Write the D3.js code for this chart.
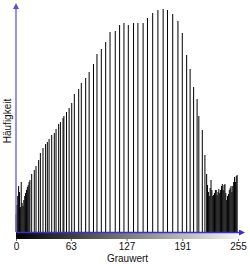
<!DOCTYPE html>
<html>
<head>
<meta charset="utf-8">
<script src="https://cdn.jsdelivr.net/npm/d3@7"></script>
<style>
  body { margin: 0; background: #fff; }
  text { font-family: "Liberation Sans", Arial, sans-serif; }
</style>
</head>
<body>
<div id="container"></div>
<script>
let w = 250;
let h = 264;

// gray values 0..16 (dense part at the dark end)
let darkLevels = [0, 1, 2, 3, 4, 5, 6, 7, 8, 9, 10, 11, 12, 13, 14, 15, 16];
let darkCounts = [18, 27, 36, 46, 40, 25, 50, 29, 26, 32, 36, 39, 42, 45, 47, 50, 52];

// the comb in the middle (only some gray values are used)
let combLevels = [18, 21, 23, 26, 28, 31, 34, 36, 38, 41, 44, 46, 49, 51, 54, 55, 58, 61, 64, 67,
  72, 75, 80, 84, 89, 93, 98, 103, 108, 114, 119, 124, 129, 135, 140, 146, 151, 157, 163, 169,
  174, 180, 186, 191, 196, 200, 204, 208, 210, 214, 217, 219];
let combCounts = [58, 62, 66, 72, 79, 84, 88, 90, 93, 97, 99, 103, 108, 110, 114, 116, 120, 124, 129, 138,
  143, 149, 154, 160, 168, 178, 183, 190, 200, 201, 207, 209, 207, 209, 209, 209, 214, 219, 222, 223,
  222, 218, 211, 199, 177, 163, 145, 133, 116, 102, 77, 58];

// dense part at the bright end
let brightLevels = [220, 221, 222, 223, 224, 225, 226, 227, 228, 229, 230, 231, 232, 233, 234, 235,
  236, 237, 238, 239, 240, 241, 242, 243, 244, 245, 246, 247, 248, 249, 250, 251, 252, 253, 254];
let brightCounts = [47, 40, 36, 44, 52, 42, 36, 37, 39, 42, 42, 37, 40, 43, 39, 42,
  46, 48, 42, 47, 48, 39, 32, 36, 38, 42, 44, 46, 40, 46, 50, 55, 50, 56, 57];

let tickValues = [0, 63, 127, 191, 255];
let xLabel = "Grauwert";
let yLabel = "Häufigkeit";

let viz = d3.select("#container")
  .append("svg")
    .attr("width", w)
    .attr("height", h)
    .style("display", "block")
;

let xScale = d3.scaleLinear().domain([0, 255]).range([16, 238]);
let yScale = d3.scaleLinear().domain([0, 228]).range([232, 4]);

// put all bins in one list
let bins = [];
function addBins(levels, counts){
  levels.forEach(function(v, i){
    bins.push({ level: v, count: counts[i] });
  });
}
addBins(darkLevels, darkCounts);
addBins(combLevels, combCounts);
addBins(brightLevels, brightCounts);

viz.append("g").attr("class", "bars")
  .selectAll("rect")
  .data(bins)
  .enter()
  .append("rect")
    .attr("x", function(d){ return xScale(d.level) - 0.5; })
    .attr("width", 1)
    .attr("y", function(d){ return yScale(d.count); })
    .attr("height", function(d){ return yScale(0) - yScale(d.count); })
    .attr("fill", "#000")
;

// gray gradient under the x axis
let defs = viz.append("defs");
let grad = defs.append("linearGradient").attr("id", "grayramp");
grad.append("stop").attr("offset", "0%").attr("stop-color", "#000");
grad.append("stop").attr("offset", "100%").attr("stop-color", "#f4f4f4");

viz.append("rect")
  .attr("x", xScale(0))
  .attr("y", 233)
  .attr("width", xScale(255) - xScale(0))
  .attr("height", 6)
  .attr("fill", "url(#grayramp)")
;

// arrow heads
defs.append("marker")
  .attr("id", "arrowUp")
  .attr("viewBox", "0 0 6 6")
  .attr("refX", 3).attr("refY", 3)
  .attr("markerWidth", 6).attr("markerHeight", 6)
  .attr("orient", "auto")
  .attr("markerUnits", "userSpaceOnUse")
  .append("path").attr("d", "M0,0 L6,3 L0,6 Z").attr("fill", "#5a50d8");

defs.append("marker")
  .attr("id", "arrowRight")
  .attr("viewBox", "0 0 6 6")
  .attr("refX", 3).attr("refY", 3)
  .attr("markerWidth", 6).attr("markerHeight", 6)
  .attr("orient", "auto")
  .attr("markerUnits", "userSpaceOnUse")
  .append("path").attr("d", "M0,0 L6,3 L0,6 Z").attr("fill", "#3a30c8");

// y axis line
viz.append("line")
  .attr("x1", xScale(0)).attr("x2", xScale(0))
  .attr("y1", yScale(0)).attr("y2", 6)
  .attr("stroke", "#7870e0")
  .attr("stroke-width", 1.5)
  .attr("marker-end", "url(#arrowUp)")
;

// x axis line
viz.append("line")
  .attr("x1", xScale(0)).attr("x2", 242)
  .attr("y1", 232.5).attr("y2", 232.5)
  .attr("stroke", "#3a30c8")
  .attr("stroke-width", 1.5)
  .attr("marker-end", "url(#arrowRight)")
;

// tick labels
let xAxis = d3.axisBottom(xScale).tickValues(tickValues).tickSize(2).tickPadding(2);
let xAxisGroup = viz.append("g").attr("class", "xaxis")
  .attr("transform", "translate(0, 239)")
  .call(xAxis);
xAxisGroup.select(".domain").remove();
xAxisGroup.selectAll("line").attr("stroke", "#666");
xAxisGroup.selectAll("text")
  .attr("font-size", 10)
  .attr("font-family", "Liberation Sans, Arial, sans-serif")
  .attr("fill", "#111");

viz.append("text")
  .attr("x", 127.5)
  .attr("y", 262)
  .attr("text-anchor", "middle")
  .attr("font-size", 10)
  .attr("fill", "#111")
  .text(xLabel);

viz.append("text")
  .attr("transform", "translate(11, 121) rotate(-90)")
  .attr("text-anchor", "middle")
  .attr("font-size", 10)
  .attr("fill", "#111")
  .text(yLabel);
</script>
</body>
</html>
